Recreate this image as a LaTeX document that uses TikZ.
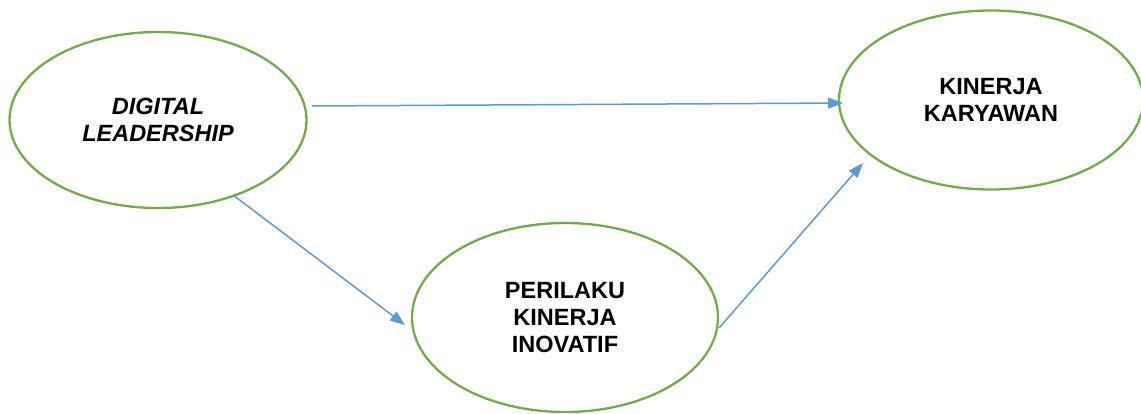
\documentclass[tikz,border=0pt]{standalone}
\usepackage{fontspec}
\setmainfont{Liberation Sans}
\usetikzlibrary{shapes.geometric,arrows.meta,calc}
\definecolor{ovalgreen}{HTML}{70AD47}
\definecolor{arrowblue}{HTML}{5B9BD5}
\begin{document}
\begin{tikzpicture}[x=1pt,y=-1pt,
  oval/.style={ellipse, draw=ovalgreen, line width=2.3pt, inner sep=0pt, align=center,
    font=\fontsize{23.5}{27}\selectfont\bfseries},
  arr/.style={draw=arrowblue, line width=1.5pt, -{Triangle[length=15pt,width=11pt]}}]
\clip (0,0) rectangle (1141,413);
\node[oval, minimum width=297, minimum height=176] (dl) at (158,120) {\textit{DIGITAL}\\\textit{LEADERSHIP}};
\node[oval, minimum width=306, minimum height=189] (pk) at (565,317.5) {PERILAKU\\KINERJA\\INOVATIF};
\node[oval, minimum width=304, minimum height=179] (kk) at (991,100) {KINERJA\\KARYAWAN};
\draw[arr] ($(dl.center)+(154,-14)$) -- ($(kk.center)+(-148,3)$);
\draw[arr] ($(dl.center)+(75,75)$) -- ($(pk.center)+(-160,7.5)$);
\draw[arr] ($(pk.center)+(154,10.5)$) -- ($(kk.center)+(-128,63)$);
\end{tikzpicture}
\end{document}
